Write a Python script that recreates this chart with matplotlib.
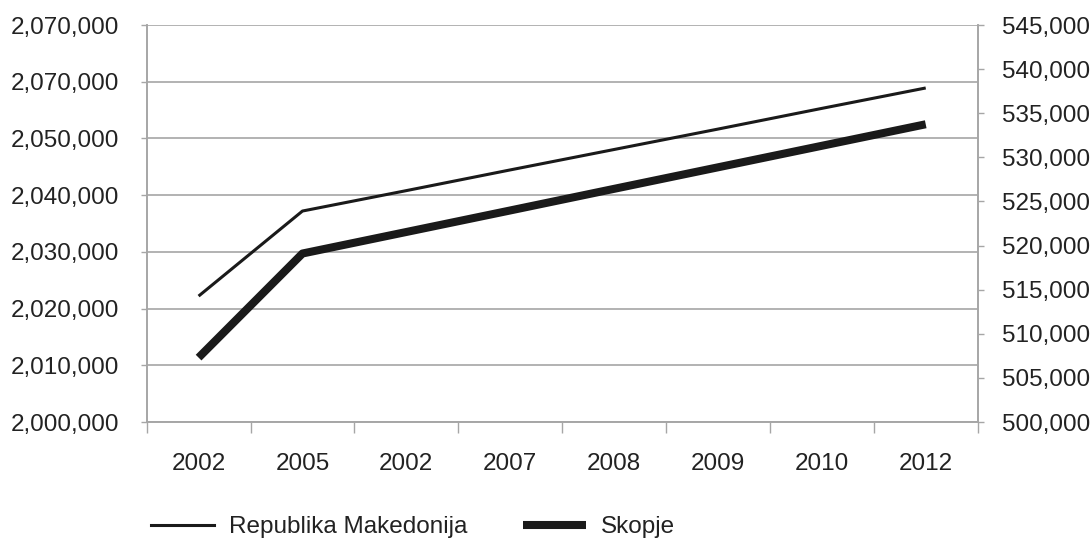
import matplotlib.pyplot as plt
from matplotlib.ticker import FixedLocator, FixedFormatter, NullFormatter
from matplotlib.lines import Line2D

plt.rcParams['font.family'] = ['Liberation Sans', 'DejaVu Sans']

godini = ['2002', '2005', '2002', '2007', '2008', '2009', '2010', '2012']
makedonija = [2022200, 2037200, 2040800, 2044450, 2048050, 2051650, 2055300, 2058900]
skopje = [507300, 519100, 521540, 523980, 526430, 528870, 531310, 533750]

levi_vrednosti = [2000000, 2010000, 2020000, 2030000, 2040000, 2050000, 2060000, 2070000]
levi_natpisi = ['2,000,000', '2,010,000', '2,020,000', '2,030,000',
                '2,040,000', '2,050,000', '2,070,000', '2,070,000']
desni_vrednosti = [500000, 505000, 510000, 515000, 520000, 525000, 530000, 535000, 540000, 545000]

siva = '#a6a6a6'
tekst = '#222222'
linija = '#1a1a1a'

fig = plt.figure(figsize=(10.92, 5.38), dpi=100)
ax = fig.add_axes([0.1343, 0.2156, 0.761, 0.7379])
ax2 = ax.twinx()

x = list(range(len(godini)))
ax.plot(x, makedonija, color=linija, lw=2.2, solid_capstyle='butt', zorder=3)
ax2.plot(x, skopje, color=linija, lw=5.8, solid_capstyle='butt', zorder=3)

ax.set_xlim(-0.5, len(godini) - 0.5)
ax.set_ylim(2000000, 2070000)
ax2.set_ylim(500000, 545000)

# podelbi na x oskata megju kategoriite
ax.xaxis.set_major_locator(FixedLocator([i - 0.5 for i in range(len(godini) + 1)]))
ax.xaxis.set_major_formatter(NullFormatter())
ax.xaxis.set_minor_locator(FixedLocator(x))
ax.xaxis.set_minor_formatter(FixedFormatter(godini))
ax.tick_params(axis='x', which='major', length=8, width=1, color=siva, direction='out')
ax.tick_params(axis='x', which='minor', length=0, pad=22, labelsize=17.5, labelcolor=tekst)

ax.yaxis.set_major_locator(FixedLocator(levi_vrednosti))
ax.yaxis.set_major_formatter(FixedFormatter(levi_natpisi))
ax.tick_params(axis='y', length=4, width=1, color=siva, pad=16, labelsize=17.5, labelcolor=tekst)

ax2.yaxis.set_major_locator(FixedLocator(desni_vrednosti))
ax2.yaxis.set_major_formatter(FixedFormatter([f'{v:,}' for v in desni_vrednosti]))
ax2.tick_params(axis='y', length=4.5, width=1, color=siva, pad=13, labelsize=17.5, labelcolor=tekst)

ax.grid(axis='y', color=siva, lw=1.2)
ax.set_axisbelow(True)

for a in (ax, ax2):
    a.spines['top'].set_visible(False)
    for s in ('left', 'right', 'bottom'):
        a.spines[s].set_color(siva)
        a.spines[s].set_linewidth(1.2)

racki = [Line2D([], [], color=linija, lw=2.2), Line2D([], [], color=linija, lw=5.8, solid_capstyle='butt')]
fig.legend(racki, ['Republika Makedonija', 'Skopje'], loc='center', bbox_to_anchor=(0.378, 0.02),
           ncol=2, frameon=False, fontsize=17.5, handlelength=2.6, handletextpad=0.6,
           columnspacing=2.3, labelcolor=tekst)

fig.savefig('out.png', dpi=100)
